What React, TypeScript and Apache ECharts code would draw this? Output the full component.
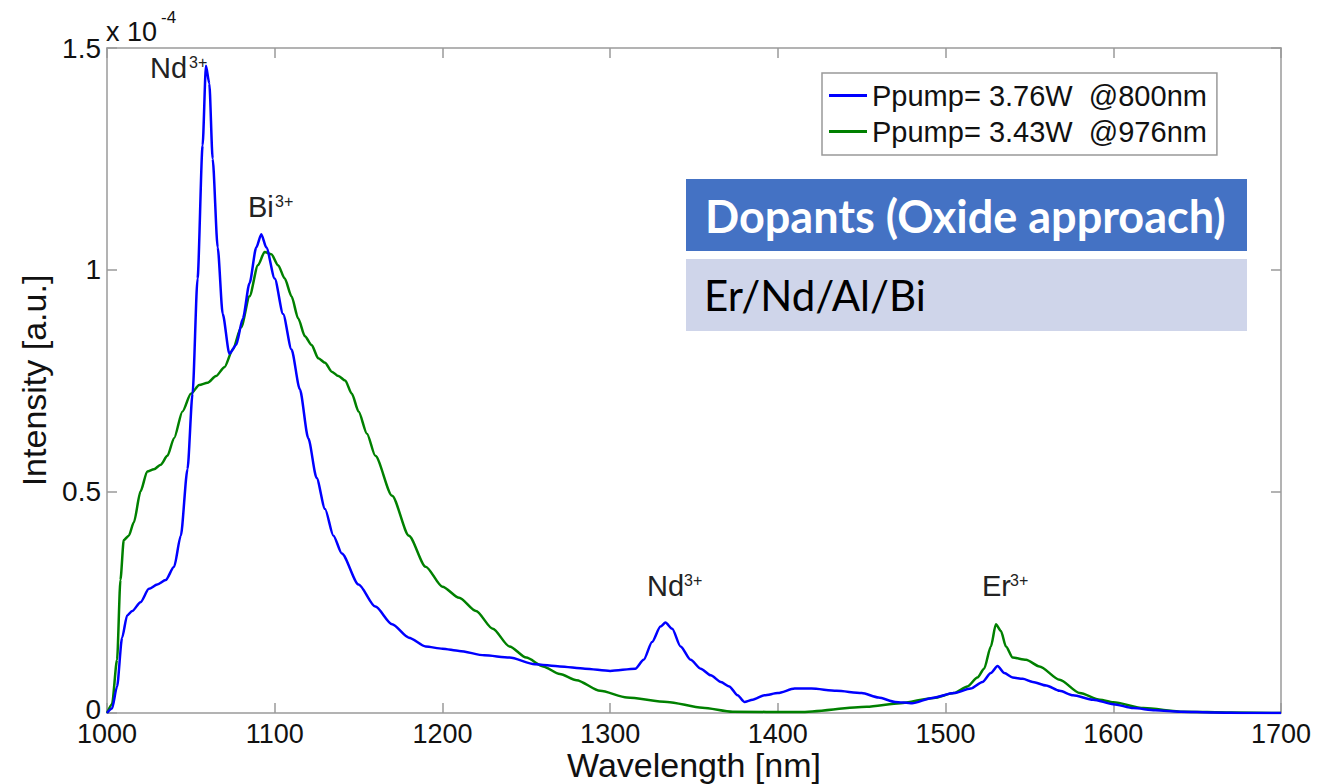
import React, { useEffect, useRef } from "react";
import * as echarts from "echarts";

// Wavelength (nm) vs intensity (units of 1e-4 a.u.)
const blueSpectrum: [number, number][] = [
  [1000, 0], [1003, 0.01], [1006, 0.06], [1009, 0.17], [1012, 0.22], [1015, 0.23],
  [1020, 0.25], [1025, 0.28], [1030, 0.29], [1035, 0.3], [1040, 0.33], [1044, 0.4],
  [1048, 0.55], [1051, 0.72], [1054, 0.98], [1057, 1.28], [1059, 1.46], [1061, 1.42],
  [1063, 1.25], [1066, 1.05], [1069, 0.9], [1073, 0.81], [1077, 0.83], [1081, 0.89],
  [1085, 0.97], [1089, 1.05], [1092, 1.08], [1095, 1.05], [1100, 0.98], [1105, 0.9],
  [1110, 0.82], [1115, 0.73], [1120, 0.62], [1125, 0.53], [1130, 0.46], [1135, 0.4],
  [1140, 0.36], [1150, 0.29], [1160, 0.24], [1170, 0.2], [1180, 0.17], [1190, 0.15],
  [1200, 0.145], [1210, 0.14], [1225, 0.13], [1240, 0.125], [1255, 0.11], [1270, 0.105],
  [1285, 0.1], [1300, 0.095], [1315, 0.1], [1320, 0.12], [1325, 0.16], [1330, 0.195],
  [1333, 0.204], [1337, 0.19], [1342, 0.15], [1348, 0.12], [1354, 0.1], [1360, 0.085],
  [1366, 0.07], [1371, 0.06], [1376, 0.04], [1380, 0.025], [1385, 0.03], [1392, 0.04],
  [1400, 0.045], [1410, 0.055], [1420, 0.055], [1435, 0.05], [1450, 0.045], [1460, 0.035],
  [1470, 0.025], [1480, 0.022], [1492, 0.034], [1505, 0.045], [1515, 0.055], [1522, 0.07],
  [1527, 0.09], [1531, 0.106], [1535, 0.09], [1540, 0.08], [1546, 0.077], [1552, 0.07],
  [1560, 0.062], [1568, 0.05], [1576, 0.04], [1588, 0.03], [1600, 0.02], [1612, 0.011],
  [1625, 0.006], [1640, 0.003], [1660, 0.001], [1680, 0], [1700, 0],
];

const greenSpectrum: [number, number][] = [
  [1000, 0], [1003, 0.02], [1006, 0.12], [1008, 0.3], [1010, 0.39], [1013, 0.4],
  [1016, 0.43], [1020, 0.5], [1024, 0.545], [1028, 0.55], [1032, 0.56], [1036, 0.58],
  [1040, 0.62], [1045, 0.68], [1050, 0.72], [1055, 0.74], [1060, 0.745], [1065, 0.76],
  [1070, 0.78], [1075, 0.82], [1080, 0.87], [1085, 0.94], [1090, 1.01], [1094, 1.04],
  [1098, 1.035], [1102, 1.01], [1106, 0.98], [1110, 0.94], [1114, 0.89], [1118, 0.85],
  [1122, 0.83], [1126, 0.8], [1130, 0.79], [1134, 0.77], [1138, 0.76], [1142, 0.75],
  [1146, 0.72], [1150, 0.68], [1155, 0.63], [1160, 0.58], [1170, 0.49], [1180, 0.4],
  [1190, 0.33], [1200, 0.285], [1210, 0.26], [1220, 0.23], [1230, 0.19], [1240, 0.15],
  [1250, 0.125], [1260, 0.105], [1270, 0.088], [1280, 0.074], [1294, 0.05], [1310, 0.035],
  [1334, 0.025], [1355, 0.012], [1373, 0.003], [1413, 0.002], [1453, 0.014], [1473, 0.022],
  [1493, 0.034], [1505, 0.045], [1513, 0.06], [1519, 0.08], [1523, 0.1], [1527, 0.15],
  [1530, 0.2], [1533, 0.185], [1536, 0.15], [1540, 0.125], [1548, 0.12], [1556, 0.105],
  [1568, 0.075], [1580, 0.045], [1592, 0.03], [1600, 0.024], [1618, 0.011], [1642, 0.003],
  [1670, 0.001], [1700, 0],
];

const seriesNames = ["Ppump= 3.76W  @800nm", "Ppump= 3.43W  @976nm"];
const xTicks = { min: 1000, max: 1700, interval: 100 };
const yTicks = { min: 0, max: 1.5, interval: 0.5 };
const boxTitle = "Dopants (Oxide approach)";
const boxBody = "Er/Nd/Al/Bi";

const FONT = "'Liberation Sans', Arial, Helvetica, sans-serif";
const AXIS_GRAY = "#9a9a9a";

function ion(x: number, y: number, main: string, sup: string, supDx: number) {
  return [
    {
      type: "text",
      x,
      y,
      style: { text: main, font: `29px ${FONT}`, fill: "#222", align: "left", verticalAlign: "middle" },
      z: 10,
    },
    {
      type: "text",
      x: x + supDx,
      y: y - 6,
      style: { text: sup, font: `16px ${FONT}`, fill: "#222", align: "left", verticalAlign: "middle" },
      z: 10,
    },
  ];
}

export default function App() {
  const ref = useRef<HTMLDivElement>(null);
  useEffect(() => {
    if (!ref.current) return;
    const chart = echarts.init(ref.current, undefined, { renderer: "svg" });
    const axisCommon = {
      type: "value",
      axisLine: { show: true, onZero: false, lineStyle: { color: AXIS_GRAY, width: 1.5 } },
      axisTick: { show: true, inside: true, length: 10, lineStyle: { color: AXIS_GRAY, width: 1.5 } },
      splitLine: { show: false },
    };
    const option: any = {
      animation: false,
      backgroundColor: "#ffffff",
      grid: {
        left: 107,
        right: 54,
        top: 48,
        bottom: 71,
        containLabel: false,
        outerBoundsMode: "none",
      },
      xAxis: [
        {
          ...axisCommon,
          position: "bottom",
          ...xTicks,
          axisLabel: {
            color: "#111",
            fontSize: 27,
            fontFamily: FONT,
            margin: 7,
            formatter: (v: number) => String(v),
          },
          name: "Wavelength [nm]",
          nameLocation: "middle",
          nameGap: 35,
          nameMoveOverlap: false,
          nameTextStyle: { color: "#111", fontSize: 34, fontFamily: FONT, lineHeight: 34 },
        },
        { ...axisCommon, position: "top", ...xTicks, axisLabel: { show: false } },
      ],
      yAxis: [
        {
          ...axisCommon,
          position: "left",
          ...yTicks,
          axisLabel: {
            color: "#111",
            fontSize: 28,
            fontFamily: FONT,
            margin: 6,
            formatter: (v: number) => (v === 0 ? "{z|0}" : String(v)),
            rich: {
              z: { fontSize: 28, fontFamily: FONT, color: "#111", lineHeight: 20, padding: [0, 0, 8, 0] },
            },
          },
          name: "Intensity [a.u.]",
          nameLocation: "middle",
          nameGap: 56,
          nameMoveOverlap: false,
          nameTextStyle: { color: "#111", fontSize: 34, fontFamily: FONT },
        },
        { ...axisCommon, position: "right", ...yTicks, axisLabel: { show: false } },
      ],
      legend: {
        orient: "vertical",
        left: 822,
        top: 73,
        data: seriesNames,
        icon: "rect",
        itemWidth: 38,
        itemHeight: 3,
        itemGap: 7,
        padding: [8, 10, 9, 7],
        borderColor: "#999",
        borderWidth: 1.5,
        backgroundColor: "#fff",
        textStyle: { color: "#111", fontSize: 29, fontFamily: FONT, lineHeight: 28 },
      },
      series: [
        {
          name: seriesNames[0],
          type: "line",
          data: blueSpectrum,
          showSymbol: false,
          symbol: "none",
          smooth: 0.25,
          smoothMonotone: "x",
          lineStyle: { color: "#0000ff", width: 2.5 },
          itemStyle: { color: "#0000ff" },
          z: 3,
        },
        {
          name: seriesNames[1],
          type: "line",
          data: greenSpectrum,
          showSymbol: false,
          symbol: "none",
          smooth: 0.25,
          smoothMonotone: "x",
          lineStyle: { color: "#008000", width: 2.5 },
          itemStyle: { color: "#008000" },
          z: 2,
        },
      ],
      graphic: [
        {
          type: "rect",
          shape: { x: 686, y: 179, width: 561, height: 72 },
          style: { fill: "#4472C4" },
          z: 20,
        },
        {
          type: "text",
          x: 705,
          y: 216,
          style: { text: boxTitle, font: `bold 45px Lato, 'Open Sans', sans-serif`, fill: "#fff", verticalAlign: "middle" },
          z: 21,
        },
        {
          type: "rect",
          shape: { x: 686, y: 259, width: 561, height: 72 },
          style: { fill: "#CFD5EA" },
          z: 20,
        },
        {
          type: "text",
          x: 704,
          y: 295,
          style: { text: boxBody, font: `42px Lato, 'Open Sans', sans-serif`, fill: "#000", verticalAlign: "middle" },
          z: 21,
        },
        {
          type: "text",
          x: 106,
          y: 32,
          style: { text: "x 10", font: `27px ${FONT}`, fill: "#111", verticalAlign: "middle" },
        },
        {
          type: "text",
          x: 161,
          y: 17,
          style: { text: "-4", font: `17px ${FONT}`, fill: "#111", verticalAlign: "middle" },
        },
        ...ion(150, 68, "Nd", "3+", 39),
        ...ion(248, 207, "Bi", "3+", 27),
        ...ion(647, 586, "Nd", "3+", 37),
        ...ion(982, 586, "Er", "3+", 28),
      ],
    };
    chart.setOption(option);
    return () => chart.dispose();
  }, []);
  return (
    <div
      ref={ref}
      style={{ position: "fixed", left: 0, top: 0, width: 1335, height: 784, background: "#fff" }}
    />
  );
}
